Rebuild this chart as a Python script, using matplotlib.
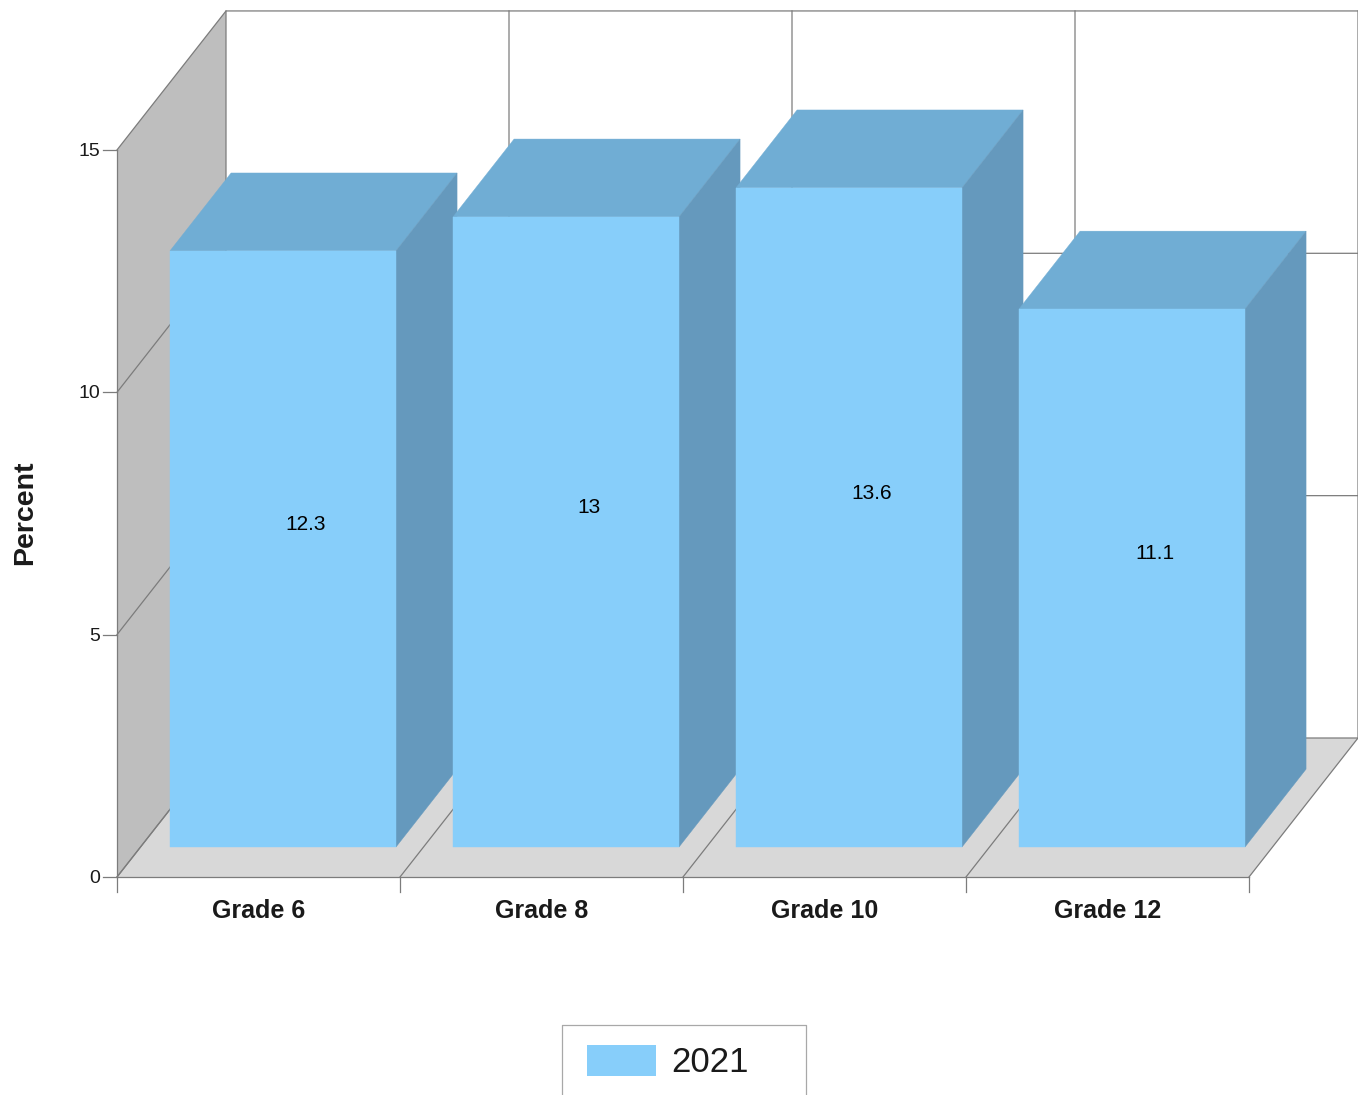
import matplotlib
matplotlib.use("Agg")
import matplotlib.pyplot as plt
from matplotlib.patches import Polygon, Rectangle

plt.rcParams['font.family'] = ['Liberation Sans', 'DejaVu Sans']

categories = ["Grade 6", "Grade 8", "Grade 10", "Grade 12"]
values = [12.3, 13, 13.6, 11.1]
value_labels = ["12.3", "13", "13.6", "11.1"]
y_ticks = [0, 5, 10, 15]
series_name = "2021"

W, H = 1358, 1095
X0, Y0 = 117.0, 877.0
CAT_PX, UNIT_PX = 283.0, 48.47
DX, DY = 109.0 / CAT_PX, 139.0 / UNIT_PX

fig = plt.figure(figsize=(W / 100, H / 100), dpi=100, facecolor="white")
ax = fig.add_axes([0, 0, 1, 1])
ax.set_xlim(-X0 / CAT_PX, (W - X0) / CAT_PX)
ax.set_ylim(-(H - Y0) / UNIT_PX, Y0 / UNIT_PX)
ax.axis("off")

n = len(categories)
top = y_ticks[-1]
GRID = "#7c7c7c"
LW = 0.9
TEXT = "#1a1a1a"

# walls and floor
ax.add_patch(Polygon([(0, 0), (DX, DY), (DX, top + DY), (0, top)], fc="#bebebe", ec="none", zorder=1))
ax.add_patch(Polygon([(0, 0), (n, 0), (n + DX, DY), (DX, DY)], fc="#d8d8d8", ec="none", zorder=1))

# grid, each line drawn once
for t in y_ticks:
    ax.plot([0, DX, n + DX], [t, t + DY, t + DY], color=GRID, lw=LW, zorder=2)
    ax.plot([-14 / CAT_PX, 0], [t, t], color=GRID, lw=LW, zorder=2)
    ax.text(-17 / CAT_PX, t - 1.5 / UNIT_PX, str(t), ha="right", va="center", fontsize=14, color=TEXT)
for i in range(n + 1):
    ax.plot([i, i + DX, i + DX], [0, DY, top + DY], color=GRID, lw=LW, zorder=2)
    ax.plot([i, i], [0, -15 / UNIT_PX], color=GRID, lw=LW, zorder=2)
ax.plot([0, 0], [0, top], color=GRID, lw=LW, zorder=2)
ax.plot([0, n], [0, 0], color=GRID, lw=LW, zorder=2)

# bars
FRONT = "#87cefa"
TOP = "#70add4"
SIDE = "#6599bd"
f0 = 30.0 / 139.0
df = 0.56
margin = 29.5 / CAT_PX
bw = 226.0 / CAT_PX
for i, v in enumerate(values):
    x0 = i + margin + f0 * DX
    y0 = f0 * DY
    x1 = x0 + bw
    y1 = y0 + v
    ox, oy = df * DX, df * DY
    ax.add_patch(Polygon([(x0, y1), (x1, y1), (x1 + ox, y1 + oy), (x0 + ox, y1 + oy)], fc=TOP, ec=TOP, lw=0.3, zorder=3))
    ax.add_patch(Polygon([(x1, y0), (x1 + ox, y0 + oy), (x1 + ox, y1 + oy), (x1, y1)], fc=SIDE, ec=SIDE, lw=0.3, zorder=3))
    ax.add_patch(Rectangle((x0, y0), bw, v, fc=FRONT, ec=FRONT, lw=0.3, zorder=4))
    ax.text((x0 + x1) / 2 + 22.5 / CAT_PX, (y0 + y1) / 2 + 24 / UNIT_PX, value_labels[i],
            ha="center", va="center", fontsize=15, color="#000000", zorder=5)
    ax.text(i + 142 / CAT_PX, -34 / UNIT_PX, categories[i], ha="center", va="center",
            fontsize=18, fontweight="bold", color=TEXT)

ax.text(-92 / CAT_PX, 364 / UNIT_PX, "Percent", rotation=90, ha="center", va="center",
        fontsize=20.5, fontweight="bold", color=TEXT)

# legend, cut by the bottom edge as in the source
lx = lambda p: (p - X0) / CAT_PX
ly = lambda p: (Y0 - p) / UNIT_PX
ax.plot([lx(562), lx(562), lx(806), lx(806)], [ly(1095), ly(1025), ly(1025), ly(1095)], color="#a8a8a8", lw=0.9)
ax.add_patch(Rectangle((lx(587), ly(1076)), 69 / CAT_PX, 31 / UNIT_PX, fc=FRONT, ec="none"))
ax.text(lx(671), ly(1062), series_name, ha="left", va="center", fontsize=25, color=TEXT)

fig.savefig("out.png", dpi=100, facecolor="white")
